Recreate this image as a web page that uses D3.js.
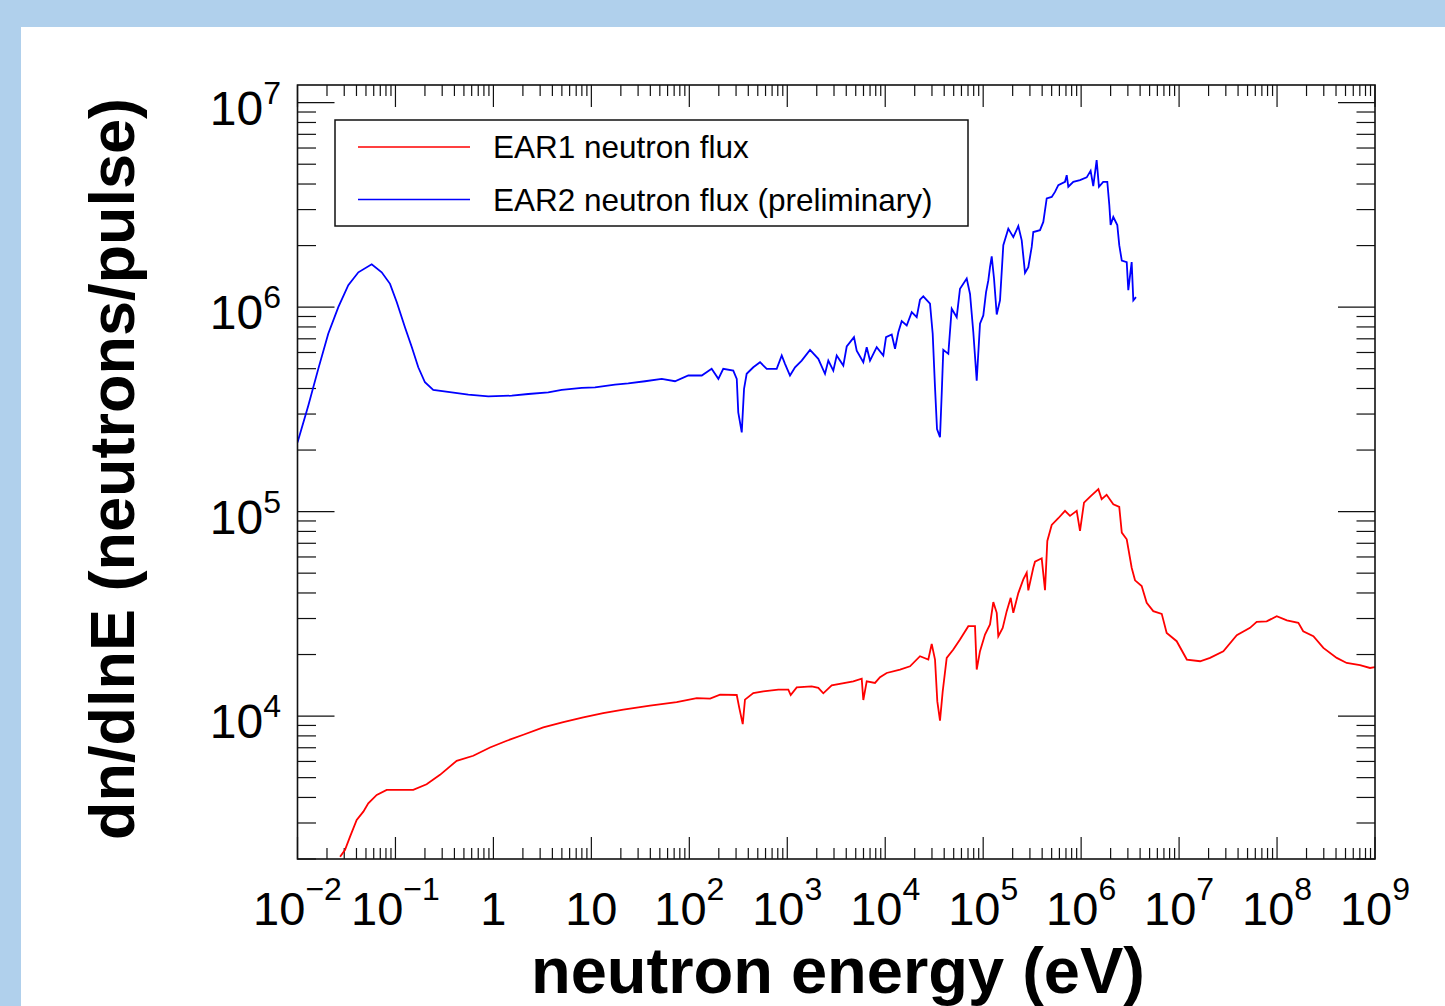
<!DOCTYPE html>
<html>
<head>
<meta charset="utf-8">
<script src="https://cdn.jsdelivr.net/npm/d3@7"></script>
<style>
  html, body { margin: 0; padding: 0; background: #b0d0ec; }
  svg { display: block; }
  text { font-family: "Liberation Sans", Arial, Helvetica, sans-serif; fill: #000; }
</style>
</head>
<body>
<svg id="chart"></svg>
<script>
// neutron flux at n_TOF, EAR1 vs EAR2, log-log histogram look

const width = 1445;
const height = 1006;

// values: [energy (eV), dn/dlnE (neutrons/pulse)]
const ear1 = [
  [0.0272, 2052], [0.0305, 2214], [0.0344, 2572], [0.0402, 3106], [0.0470, 3410],
  [0.0528, 3745], [0.0644, 4118], [0.0814, 4357], [0.152, 4357], [0.208, 4642],
  [0.285, 5160], [0.422, 6045], [0.623, 6395], [0.923, 7024], [1.37, 7574],
  [2.02, 8106], [3.23, 8801], [5.17, 9345], [8.27, 9853], [13.2, 10340],
  [21.2, 10750], [39.7, 11250], [74.3, 11710], [119, 12250], [163, 12180],
  [206, 12730], [305, 12680], [324, 10940], [351, 9137], [370, 12030],
  [450, 12960], [569, 13210], [810, 13470], [1025, 13470], [1084, 12680],
  [1249, 13820], [1776, 13980], [2074, 13750], [2333, 12920], [2842, 14140],
  [4722, 14800], [5754, 15250], [5975, 11980], [6471, 14800], [7865, 14520],
  [8848, 15480], [1.035e4, 16250], [1.416e4, 16890], [1.791e4, 17520], [2.265e4, 19620],
  [2.754e4, 18900], [2.982e4, 22540], [3.223e4, 18900], [3.402e4, 11800], [3.624e4, 9495],
  [3.862e4, 13210], [4.243e4, 19250], [4.955e4, 21160], [5.799e4, 23690], [7.051e4, 27530],
  [8.252e4, 27530], [8.590e4, 16890], [9.280e4, 20760], [1.044e5, 25060], [1.174e5, 28050],
  [1.269e5, 36090], [1.375e5, 31980], [1.427e5, 24590], [1.582e5, 27010], [1.739e5, 32600],
  [1.910e5, 37870], [2.030e5, 31980], [2.284e5, 39950], [2.568e5, 46640], [2.782e5, 50230],
  [2.889e5, 41180], [3.248e5, 53160], [3.381e5, 56870], [3.958e5, 59100], [4.278e5, 41300],
  [4.516e5, 71850], [5.007e5, 86060], [5.848e5, 92810], [6.845e5, 100800], [7.698e5, 95260],
  [9.010e5, 100800], [9.736e5, 80430], [1.07e6, 110700], [1.23e6, 118100], [1.50e6, 128800],
  [1.62e6, 115000], [1.82e6, 120800], [2.13e6, 108700], [2.45e6, 105400], [2.60e6, 78910],
  [2.92e6, 73240], [3.28e6, 53160], [3.55e6, 46110], [4.15e6, 43230], [4.67e6, 35800],
  [5.45e6, 32600], [6.65e6, 31620], [7.47e6, 25520], [9.45e6, 23240], [1.20e7, 18900],
  [1.64e7, 18540], [2.07e7, 19250], [2.83e7, 20760], [3.88e7, 24860], [5.30e7, 27010],
  [6.20e7, 28890], [7.84e7, 29040], [9.92e7, 30810], [1.26e8, 29360], [1.65e8, 28580],
  [1.85e8, 26010], [2.35e8, 24590], [2.97e8, 21540], [4.07e8, 19250], [5.14e8, 18190],
  [7.03e8, 17730], [8.89e8, 17190], [1e9, 17370]
];

const ear2 = [
  [0.0100, 2.18e5], [0.0129, 3.30e5], [0.0163, 4.99e5], [0.0206, 7.41e5], [0.0261, 1.00e6],
  [0.0330, 1.28e6], [0.0418, 1.48e6], [0.0572, 1.62e6], [0.0724, 1.48e6], [0.0880, 1.30e6],
  [0.103, 1.06e6], [0.125, 7.98e5], [0.147, 6.37e5], [0.171, 5.08e5], [0.200, 4.29e5],
  [0.243, 3.94e5], [0.375, 3.83e5], [0.554, 3.73e5], [0.887, 3.66e5], [1.54, 3.69e5],
  [2.27, 3.76e5], [3.63, 3.83e5], [4.98, 3.94e5], [7.97, 4.03e5], [10.9, 4.05e5],
  [17.4, 4.18e5], [23.8, 4.24e5], [35.3, 4.34e5], [52.3, 4.46e5], [71.4, 4.34e5],
  [97.7, 4.63e5], [134, 4.63e5], [169, 4.99e5], [198, 4.46e5], [222, 4.99e5],
  [281, 4.89e5], [305, 4.46e5], [316, 3.06e5], [343, 2.44e5], [362, 3.98e5],
  [385, 4.72e5], [450, 5.08e5], [527, 5.38e5], [617, 4.99e5], [780, 4.99e5],
  [878, 5.80e5], [948, 5.28e5], [1066, 4.63e5], [1200, 5.08e5], [1404, 5.48e5],
  [1707, 6.18e5], [2074, 5.59e5], [2428, 4.72e5], [2624, 5.48e5], [2951, 4.89e5],
  [3197, 5.80e5], [3733, 5.18e5], [4045, 6.42e5], [4800, 7.13e5], [5115, 6.13e5],
  [5975, 5.38e5], [6471, 6.37e5], [6993, 5.48e5], [8185, 6.37e5], [9559, 5.80e5],
  [1.019e4, 7.13e5], [1.165e4, 7.35e5], [1.259e4, 6.26e5], [1.360e4, 7.54e5], [1.473e4, 8.54e5],
  [1.657e4, 8.13e5], [1.864e4, 9.45e5], [2.096e4, 8.93e5], [2.265e4, 1.087e6], [2.447e4, 1.13e6],
  [2.865e4, 1.04e6], [3.052e4, 7.41e5], [3.223e4, 4.05e5], [3.378e4, 2.53e5], [3.624e4, 2.31e5],
  [3.772e4, 3.76e5], [3.916e4, 6.18e5], [4.406e4, 5.91e5], [4.772e4, 9.82e5], [5.366e4, 8.93e5],
  [5.799e4, 1.23e6], [6.790e4, 1.38e6], [7.340e4, 1.16e6], [7.930e4, 7.54e5], [8.590e4, 4.37e5],
  [9.280e4, 8.29e5], [1.003e5, 9.11e5], [1.069e5, 1.18e6], [1.128e5, 1.35e6], [1.174e5, 1.57e6],
  [1.222e5, 1.77e6], [1.290e5, 1.38e6], [1.375e5, 9.21e5], [1.485e5, 1.08e6], [1.605e5, 2.01e6],
  [1.805e5, 2.42e6], [2.030e5, 2.20e6], [2.284e5, 2.49e6], [2.474e5, 2.12e6], [2.673e5, 1.47e6],
  [2.889e5, 1.57e6], [3.129e5, 1.97e6], [3.248e5, 2.33e6], [3.803e5, 2.38e6], [4.110e5, 2.61e6],
  [4.452e5, 3.40e6], [5.007e5, 3.46e6], [5.410e5, 3.66e6], [5.848e5, 3.95e6], [6.845e5, 4.10e6],
  [7.125e5, 4.42e6], [7.396e5, 3.88e6], [8.318e5, 4.10e6], [9.736e5, 4.18e6], [1.14e6, 4.31e6],
  [1.25e6, 4.64e6], [1.33e6, 3.91e6], [1.44e6, 5.24e6], [1.52e6, 3.88e6], [1.68e6, 4.10e6],
  [1.85e6, 4.10e6], [1.94e6, 3.15e6], [2.00e6, 2.52e6], [2.13e6, 2.76e6], [2.34e6, 2.52e6],
  [2.45e6, 2.01e6], [2.60e6, 1.69e6], [2.92e6, 1.66e6], [3.03e6, 1.21e6], [3.28e6, 1.66e6],
  [3.41e6, 1.08e6], [3.63e6, 1.12e6]
];

const seriesNames = ["EAR1 neutron flux", "EAR2 neutron flux (preliminary)"];
const seriesColors = ["#ff0000", "#0000ff"];

// tick labels: [mantissa, exponent]
const xDecades = [-2, -1, 0, 1, 2, 3, 4, 5, 6, 7, 8, 9];
const xTickText = [
  ["10", "\u22122"], ["10", "\u22121"], ["1", ""], ["10", ""], ["10", "2"], ["10", "3"],
  ["10", "4"], ["10", "5"], ["10", "6"], ["10", "7"], ["10", "8"], ["10", "9"]
];
const yDecades = [4, 5, 6, 7];
const yTickText = [["10", "4"], ["10", "5"], ["10", "6"], ["10", "7"]];

const xTitle = "neutron energy (eV)";
const yTitle = "dn/dlnE (neutrons/pulse)";

// frame of the pad
const plot = { left: 297.5, right: 1375, top: 85, bottom: 859 };

const svg = d3.select("#chart")
  .attr("width", width)
  .attr("height", height)
  .attr("viewBox", "0 0 " + width + " " + height);

// white pad on the light blue slide
svg.append("rect")
  .attr("x", 21).attr("y", 27)
  .attr("width", width - 21).attr("height", height - 27)
  .attr("fill", "#ffffff");

const x = d3.scaleLog().domain([1e-2, 1e9]).range([plot.left, plot.right]);
const y = d3.scaleLog().domain([2000, 1.22e7]).range([plot.bottom, plot.top]);

// tick values, 1..9 per decade
function logTicks(scale) {
  const dom = scale.domain();
  const lo = Math.floor(Math.log10(dom[0]));
  const hi = Math.ceil(Math.log10(dom[1]));
  const out = [];
  for (let k = lo; k <= hi; k++) {
    for (let m = 1; m <= 9; m++) {
      const v = m * Math.pow(10, k);
      if (v >= dom[0] * 0.999 && v <= dom[1] * 1.001) out.push({ v: v, major: m === 1 });
    }
  }
  return out;
}

const ticks = svg.append("g")
  .attr("stroke", "#111")
  .attr("stroke-width", 1.2);

logTicks(x).forEach(function (t) {
  const px = x(t.v);
  const len = t.major ? 22 : 11;
  ticks.append("line").attr("x1", px).attr("x2", px)
    .attr("y1", plot.bottom).attr("y2", plot.bottom - len);
  ticks.append("line").attr("x1", px).attr("x2", px)
    .attr("y1", plot.top).attr("y2", plot.top + len);
});

logTicks(y).forEach(function (t) {
  const py = y(t.v);
  const len = t.major ? 37 : 18.5;
  ticks.append("line").attr("y1", py).attr("y2", py)
    .attr("x1", plot.left).attr("x2", plot.left + len);
  ticks.append("line").attr("y1", py).attr("y2", py)
    .attr("x1", plot.right).attr("x2", plot.right - len);
});

// curves
svg.append("clipPath").attr("id", "pad")
  .append("rect")
  .attr("x", plot.left).attr("y", plot.top)
  .attr("width", plot.right - plot.left)
  .attr("height", plot.bottom - plot.top);

const line = d3.line()
  .x(function (d) { return x(d[0]); })
  .y(function (d) { return y(d[1]); });

[ear1, ear2].forEach(function (data, i) {
  svg.append("path")
    .datum(data)
    .attr("clip-path", "url(#pad)")
    .attr("d", line)
    .attr("fill", "none")
    .attr("stroke", seriesColors[i])
    .attr("stroke-width", 1.8)
    .attr("stroke-linejoin", "miter");
});

// frame
svg.append("rect")
  .attr("x", plot.left).attr("y", plot.top)
  .attr("width", plot.right - plot.left)
  .attr("height", plot.bottom - plot.top)
  .attr("fill", "none")
  .attr("stroke", "#111")
  .attr("stroke-width", 1.6);

// x tick labels
const xLab = svg.append("g");
xDecades.forEach(function (k, i) {
  const t = xLab.append("text")
    .attr("x", x(Math.pow(10, k)))
    .attr("y", 925)
    .attr("text-anchor", "middle")
    .style("font-size", "47px");
  t.append("tspan").text(xTickText[i][0]);
  if (xTickText[i][1]) {
    t.append("tspan").attr("dy", -25).style("font-size", "32px").text(xTickText[i][1]);
  }
});

// y tick labels
const yLab = svg.append("g");
yDecades.forEach(function (k, i) {
  const t = yLab.append("text")
    .attr("x", 281)
    .attr("y", y(Math.pow(10, k)) + 22)
    .attr("text-anchor", "end")
    .style("font-size", "48px");
  t.append("tspan").text(yTickText[i][0]);
  t.append("tspan").attr("dy", -21).style("font-size", "32px").text(yTickText[i][1]);
});

// axis titles
svg.append("text")
  .attr("x", 838)
  .attr("y", 993)
  .attr("text-anchor", "middle")
  .style("font-size", "65px")
  .style("font-weight", "bold")
  .text(xTitle);

svg.append("text")
  .attr("transform", "translate(134,469) rotate(-90)")
  .attr("text-anchor", "middle")
  .style("font-size", "63px")
  .style("font-weight", "bold")
  .text(yTitle);

// legend
const legend = svg.append("g");
legend.append("rect")
  .attr("x", 335).attr("y", 120)
  .attr("width", 633).attr("height", 106)
  .attr("fill", "#ffffff")
  .attr("stroke", "#111")
  .attr("stroke-width", 1.5);

seriesNames.forEach(function (name, i) {
  const ly = 147 + i * 52.5;
  legend.append("line")
    .attr("x1", 358).attr("x2", 470)
    .attr("y1", ly).attr("y2", ly)
    .attr("stroke", seriesColors[i])
    .attr("stroke-width", 1.5);
  legend.append("text")
    .attr("x", 493)
    .attr("y", ly + 11)
    .style("font-size", "31.5px")
    .text(name);
});
</script>
</body>
</html>
